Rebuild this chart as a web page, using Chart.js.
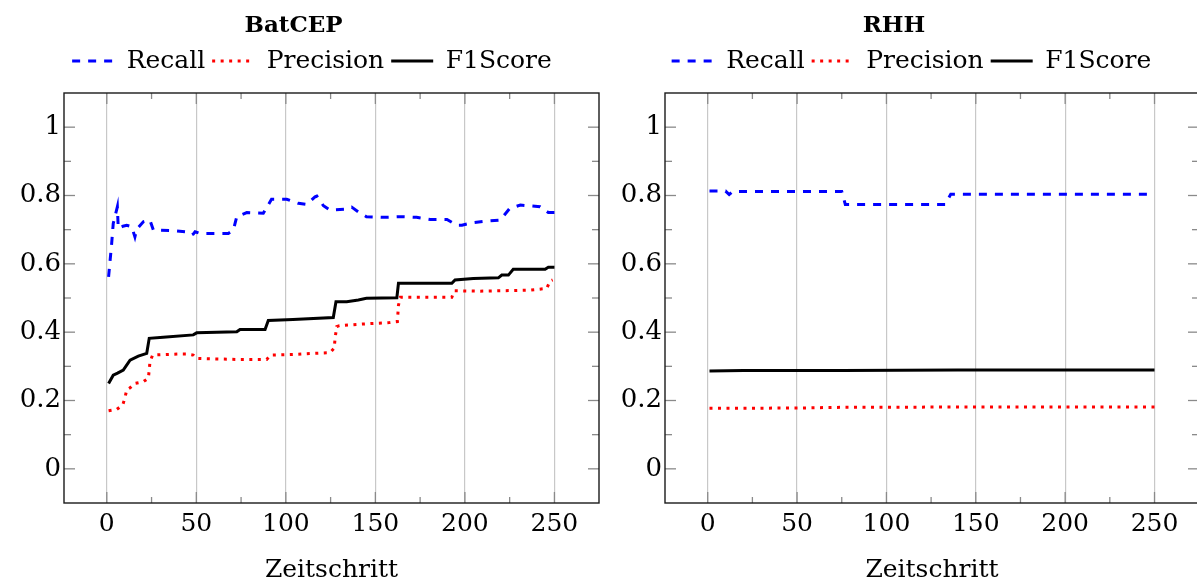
<!DOCTYPE html>
<html>
<head>
<meta charset="utf-8">
<script src="https://cdn.jsdelivr.net/npm/chart.js@4.4.1/dist/chart.umd.min.js"></script>
<style>
  html, body { margin: 0; padding: 0; background: #fff; overflow: hidden; }
  #wrap { position: relative; width: 1197px; height: 583px; }
  #wrap canvas { position: absolute; top: 0; }
  #left { left: 0; }
  #right { left: 600px; }
</style>
</head>
<body>
<div id="wrap">
  <canvas id="left" width="624" height="583"></canvas>
  <canvas id="right" width="623" height="583"></canvas>
</div>
<script>
// axis ticks / labels
const xTicks = [0, 50, 100, 150, 200, 250];
const xMinorTicks = [25, 75, 125, 175, 225];
const yTicks = [0, 0.2, 0.4, 0.6, 0.8, 1];
const yTickLabels = ['0', '0.2', '0.4', '0.6', '0.8', '1'];
const yMinorTicks = [0.1, 0.3, 0.5, 0.7, 0.9];
const seriesNames = ['Recall', 'Precision', 'F1Score'];
const xTitle = 'Zeitschritt';

// BatCEP
const batcepRecallSteps = [1, 2.7, 3.6, 5.9, 6.4, 9, 11.1, 13.9, 15.7, 16.7, 20.4, 24.1, 26, 38, 43.7, 47.4, 48.3, 49.3, 52, 67.9, 70.7, 72.6, 78.2, 87.4, 92, 100.5, 107, 111.7, 116.3, 117.3, 121, 124.7, 134, 136.8, 140.5, 145, 154.5, 163.8, 173, 180.6, 190, 195.5, 198.3, 204, 212, 219.7, 225, 231, 242, 246.6, 250];
const batcepRecall = [0.562, 0.658, 0.718, 0.767, 0.704, 0.71, 0.713, 0.709, 0.679, 0.701, 0.723, 0.728, 0.699, 0.697, 0.694, 0.684, 0.687, 0.694, 0.689, 0.689, 0.699, 0.738, 0.75, 0.748, 0.789, 0.789, 0.777, 0.774, 0.796, 0.798, 0.770, 0.757, 0.760, 0.766, 0.752, 0.738, 0.736, 0.738, 0.736, 0.730, 0.730, 0.713, 0.713, 0.720, 0.725, 0.728, 0.762, 0.772, 0.767, 0.750, 0.750];

const batcepPrecisionSteps = [1, 5.5, 8.9, 10.2, 11.1, 13, 15.7, 20.4, 23.2, 23.7, 24.1, 25.6, 40, 44.6, 48.3, 50.2, 74.4, 89.3, 91.5, 106, 115.4, 124.7, 127, 127.5, 128.4, 129.9, 143.3, 158, 162.3, 162.9, 164, 192.7, 194, 208.5, 236.4, 245.7, 247.6, 249];
const batcepPrecision = [0.170, 0.174, 0.187, 0.209, 0.231, 0.237, 0.250, 0.255, 0.265, 0.289, 0.313, 0.333, 0.336, 0.336, 0.333, 0.323, 0.320, 0.320, 0.333, 0.335, 0.338, 0.340, 0.353, 0.382, 0.416, 0.419, 0.424, 0.428, 0.431, 0.479, 0.502, 0.502, 0.521, 0.520, 0.523, 0.528, 0.550, 0.553];

const batcepF1Steps = [1, 3.6, 6, 9.2, 13, 17.6, 22.3, 23.7, 31.5, 48.3, 50.2, 72.6, 74.4, 88.4, 90.2, 104, 126.5, 128, 134, 140.5, 145, 162, 162.9, 169.4, 192.7, 194.5, 204.7, 218.7, 220.6, 224.3, 227, 244.8, 246.6, 250];
const batcepF1 = [0.250, 0.274, 0.280, 0.289, 0.318, 0.330, 0.338, 0.382, 0.385, 0.392, 0.398, 0.401, 0.408, 0.408, 0.434, 0.437, 0.443, 0.489, 0.489, 0.494, 0.499, 0.501, 0.543, 0.543, 0.543, 0.553, 0.557, 0.559, 0.567, 0.567, 0.584, 0.584, 0.590, 0.590];

// RHH
const rhhRecallSteps = [1, 10, 12, 14, 75, 77, 133, 136, 250];
const rhhRecall = [0.813, 0.813, 0.803, 0.812, 0.812, 0.774, 0.774, 0.804, 0.804];

const rhhPrecisionSteps = [1, 50, 75, 150, 250];
const rhhPrecision = [0.177, 0.178, 0.180, 0.181, 0.181];

const rhhF1Steps = [1, 20, 75, 140, 250];
const rhhF1 = [0.286, 0.288, 0.288, 0.289, 0.289];

Chart.defaults.font.family = "'DejaVu Serif', serif";
Chart.defaults.color = '#000';

function points(xs, ys) {
  return xs.map((x, i) => ({ x, y: ys[i] }));
}

function makeDatasets(recall, recallX, precision, precisionX, f1, f1X) {
  return [
    { label: seriesNames[0], data: points(recallX, recall), borderColor: '#0000ff', borderDash: [8, 8], borderWidth: 3 },
    { label: seriesNames[1], data: points(precisionX, precision), borderColor: '#ff0000', borderDash: [3, 5.5], borderWidth: 3 },
    { label: seriesNames[2], data: points(f1X, f1), borderColor: '#000000', borderWidth: 3 },
  ].map((d) => Object.assign(d, { pointRadius: 0, tension: 0, fill: false, borderCapStyle: 'butt' }));
}

const frameTicks = {
  id: 'frameTicks',
  afterDatasetsDraw(chart, args, opts) {
    const { ctx, chartArea: a, scales: { x, y } } = chart;
    ctx.save();
    const line = (x1, y1, x2, y2) => {
      ctx.beginPath();
      ctx.moveTo(x1, y1);
      ctx.lineTo(x2, y2);
      ctx.stroke();
    };
    ctx.strokeStyle = '#8a8a8a';
    ctx.lineWidth = 1.3;
    xTicks.forEach((v) => {
      const px = x.getPixelForValue(v);
      line(px, a.top, px, a.top + 11);
      line(px, a.bottom, px, a.bottom - 11);
    });
    xMinorTicks.forEach((v) => {
      const px = x.getPixelForValue(v);
      line(px, a.top, px, a.top + 6);
      line(px, a.bottom, px, a.bottom - 6);
    });
    yTicks.forEach((v) => {
      const py = y.getPixelForValue(v);
      line(a.left, py, a.left + 11, py);
      line(a.right, py, a.right - 11, py);
    });
    yMinorTicks.forEach((v) => {
      const py = y.getPixelForValue(v);
      line(a.left, py, a.left + 7, py);
      line(a.right, py, a.right - 7, py);
    });
    ctx.strokeStyle = '#1a1a1a';
    ctx.lineWidth = 1.4;
    ctx.strokeRect(a.left, a.top, a.right - a.left, a.bottom - a.top);

    // panel title
    ctx.fillStyle = '#000';
    ctx.font = "bold 23px 'DejaVu Serif', serif";
    ctx.textAlign = 'center';
    ctx.textBaseline = 'middle';
    ctx.fillText(opts.text, (a.left + a.right) / 2 - 38, 26);
    ctx.restore();
  },
};

function buildChart(canvasId, title, datasets, yWidth, rightWidth) {
  const ctx = document.getElementById(canvasId).getContext('2d');
  return new Chart(ctx, {
    type: 'line',
    data: { datasets },
    plugins: [frameTicks],
    options: {
      responsive: false,
      animation: false,
      layout: { padding: { top: 41.5, left: 0, right: 0, bottom: 0 } },
      plugins: {
        title: { display: false },
        tooltip: { enabled: false },
        frameTicks: { text: title },
        legend: {
          display: true,
          position: 'top',
          align: 'center',
          labels: {
            usePointStyle: true,
            pointStyleWidth: 42,
            padding: 7,
            color: '#000',
            font: { size: 25 },
            generateLabels: (chart) => chart.data.datasets.map((ds, i) => ({
              text: ds.label,
              fillStyle: ds.borderColor,
              strokeStyle: ds.borderColor,
              lineWidth: 3,
              lineDash: ds.borderDash || [],
              lineCap: 'butt',
              pointStyle: 'line',
              hidden: false,
              datasetIndex: i,
              fontColor: '#000',
            })),
          },
        },
      },
      scales: {
        x: {
          type: 'linear',
          position: 'bottom',
          min: -23.9,
          max: 274.9,
          afterBuildTicks: (s) => { s.ticks = xTicks.map((v) => ({ value: v })); },
          afterFit: (s) => { s.height = 80; },
          grid: { display: true, color: '#c8c8c8', lineWidth: 1.2, drawTicks: false },
          border: { display: false },
          ticks: { padding: 6, font: { size: 25 }, color: '#000', maxRotation: 0, callback: (v) => String(v) },
          title: { display: true, text: xTitle, font: { size: 25, lineHeight: 1 }, color: '#000', padding: { top: 0, bottom: 0.5 } },
        },
        xTop: {
          type: 'linear',
          position: 'top',
          display: true,
          afterFit: (s) => { s.height = 9.5; },
          grid: { display: false },
          border: { display: false },
          ticks: { display: false },
        },
        y: {
          type: 'linear',
          position: 'left',
          min: -0.1,
          max: 1.1,
          afterBuildTicks: (s) => { s.ticks = yTicks.map((v) => ({ value: v })); },
          afterFit: (s) => { s.width = yWidth; },
          grid: { display: false, drawTicks: false },
          border: { display: false },
          ticks: { padding: 3, font: { size: 26 }, color: '#000', callback: (v) => yTickLabels[yTicks.indexOf(v)] ?? '' },
        },
        yRight: {
          type: 'linear',
          position: 'right',
          display: true,
          afterFit: (s) => { s.width = rightWidth; },
          grid: { display: false },
          border: { display: false },
          ticks: { display: false },
        },
      },
    },
  });
}

buildChart('left', 'BatCEP',
  makeDatasets(batcepRecall, batcepRecallSteps, batcepPrecision, batcepPrecisionSteps, batcepF1, batcepF1Steps),
  64, 25);
buildChart('right', 'RHH',
  makeDatasets(rhhRecall, rhhRecallSteps, rhhPrecision, rhhPrecisionSteps, rhhF1, rhhF1Steps),
  65, 24);
</script>
</body>
</html>
